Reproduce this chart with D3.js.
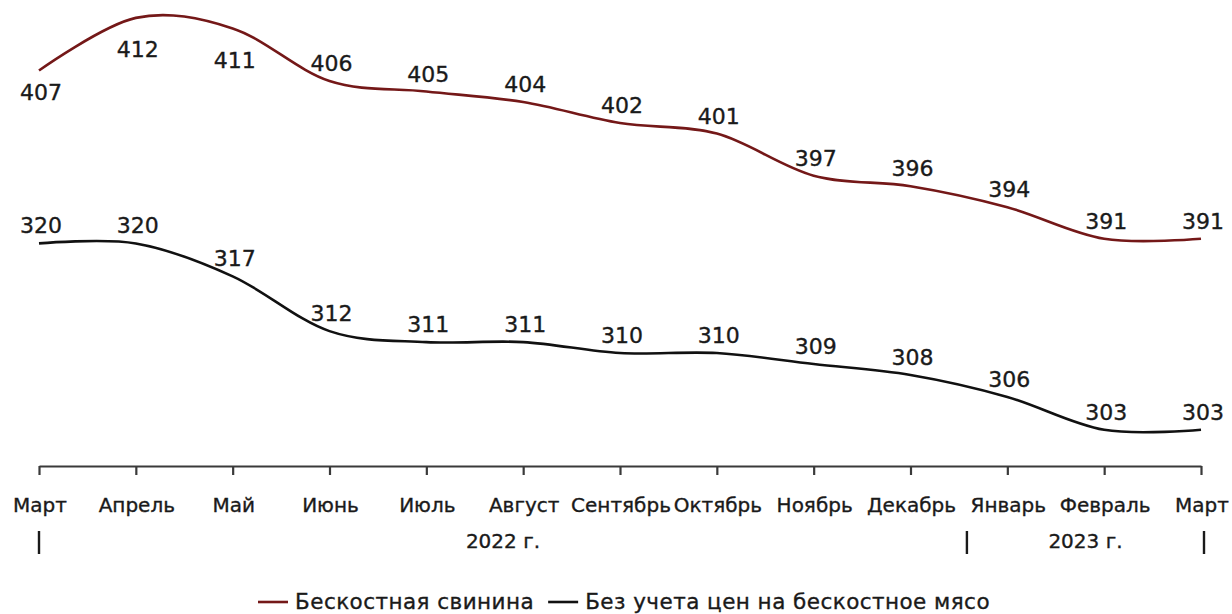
<!DOCTYPE html>
<html>
<head>
<meta charset="utf-8">
<script src="https://cdn.jsdelivr.net/npm/d3@7"></script>
<style>
  html, body { margin: 0; padding: 0; background: #fff; }
  svg { display: block; }
  text { font-family: "DejaVu Sans", sans-serif; fill: #1a1a1a; stroke: #1a1a1a; stroke-width: 0.35px; }
</style>
</head>
<body>
<svg id="chart" width="1232" height="614"></svg>
<script>
// ---- data ----
const months = ["Март","Апрель","Май","Июнь","Июль","Август","Сентябрь","Октябрь","Ноябрь","Декабрь","Январь","Февраль","Март"];
const porkBoneless = [407,412,411,406,405,404,402,401,397,396,394,391,391];
const withoutBoneless = [320,320,317,312,311,311,310,310,309,308,306,303,303];
const porkLabelPos = ["below","below","below","above","above","above","above","above","above","above","above","above","above"];
const withoutLabelPos = ["above","above","above","above","above","above","above","above","above","above","above","above","above"];
const years = ["2022 г.","2023 г."];
const seriesNames = ["Бескостная свинина","Без учета цен на бескостное мясо"];
const porkAxisBounds = [369.4, 413.7];
const withoutAxisBounds = [299.7, 342.2];

(function(){
// ---- layout ----
const svg = d3.select("#chart");
const plotLeft = 39, plotRight = 1201, plotTop = 0, axisY = 466;
const idx = months.map((d,i)=>i);
const x = d3.scalePoint().domain(idx).range([plotLeft, plotRight]);
const yPork = d3.scaleLinear().domain(porkAxisBounds).range([axisY, plotTop]);
const yWithout = d3.scaleLinear().domain(withoutAxisBounds).range([axisY, plotTop]);

const colors = ["#741818", "#111111"];

// axis
const axis = d3.axisBottom(x).tickSize(9).tickSizeOuter(0).tickFormat(()=> "");
const gAxis = svg.append("g").attr("transform", `translate(0,${axisY})`).call(axis);
gAxis.select(".domain").attr("stroke", "#3a3a3a").attr("stroke-width", 2.2);
gAxis.selectAll(".tick line").attr("stroke", "#3a3a3a").attr("stroke-width", 2.2);

// month labels
svg.append("g").selectAll("text").data(months).join("text")
  .attr("x", (d,i)=> x(i) + 1)
  .attr("y", 512)
  .attr("text-anchor", "middle")
  .style("font-size", "20px")
  .text(d=>d);

// year separators and labels
const sepX = [x(0), (x(9)+x(10))/2 + 8, x(12) + 3];
svg.append("g").selectAll("line").data(sepX).join("line")
  .attr("x1", d=>d).attr("x2", d=>d)
  .attr("y1", 531).attr("y2", 554)
  .attr("stroke", "#1a1a1a").attr("stroke-width", 2.4);
svg.append("g").selectAll("text").data(years).join("text")
  .attr("x", (d,i)=> (sepX[i]+sepX[i+1])/2)
  .attr("y", 548)
  .attr("text-anchor", "middle")
  .style("font-size", "20px")
  .text(d=>d);

// lines
const curve = d3.curveCardinal.tension(0);
function labelY(v, y, p, i) {
  if (p === "below") return y(v) + (i === 0 ? 30 : 38 + i);
  return y(v) - 10;
}
function drawSeries(values, y, color, pos) {
  const line = d3.line().x((d,i)=>x(i)).y(d=>y(d)).curve(curve);
  svg.append("path").datum(values)
    .attr("d", line)
    .attr("fill", "none")
    .attr("stroke", color)
    .attr("stroke-width", 2.6)
    .attr("stroke-linecap", "butt");
  svg.append("g").selectAll("text").data(values).join("text")
    .attr("x", (d,i)=> x(i) + 2)
    .attr("y", (d,i)=> labelY(d, y, pos[i], i))
    .attr("text-anchor", "middle")
    .style("font-size", "22px")
    .text(d=>d);
}
drawSeries(porkBoneless, yPork, colors[0], porkLabelPos);
drawSeries(withoutBoneless, yWithout, colors[1], withoutLabelPos);

// legend
const legY = 602;
const leg = svg.append("g");
const items = seriesNames.map((name,i)=>({name, color: colors[i]}));
let cx = 0;
items.forEach((it,i)=>{
  const g = leg.append("g");
  g.append("line").attr("x1", 0).attr("x2", 30).attr("y1", 0).attr("y2", 0)
    .attr("stroke", it.color).attr("stroke-width", 2.6);
  const t = g.append("text").attr("x", 37).attr("y", 7)
    .style("font-size", "21.5px").style("letter-spacing", "0.45px").text(it.name);
  const w = 37 + t.node().getComputedTextLength();
  g.attr("transform", `translate(${cx},${legY})`);
  cx += w + 14;
});
const totalW = cx - 14;
leg.attr("transform", `translate(${624 - totalW/2},0)`);
})();
</script>
</body>
</html>
